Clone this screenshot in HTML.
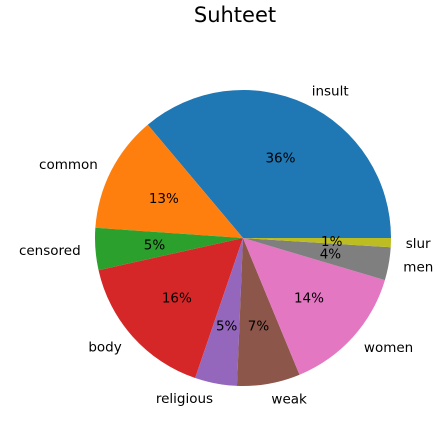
<!DOCTYPE html>
<html><head><meta charset="utf-8"><style>body{margin:0;background:#fff}svg{display:block;font-family:"DejaVu Sans","Liberation Sans",sans-serif}</style></head>
<body>
<svg id="chart" width="445" height="426">
<text x="235" y="22" font-size="21" text-anchor="middle">Suhteet</text>
<g id="slices"></g>
</svg>
<script>
const categories=["insult","common","censored","body","religious","weak","women","men","slur"];
const values=[36.2,12.8,4.6,16.3,4.6,6.9,14.2,3.6,1.0];
const colors=["#1f77b4","#ff7f0e","#2ca02c","#d62728","#9467bd","#8c564b","#e377c2","#7f7f7f","#bcbd22"];
const cx=243,cy=238,r=148;
const g=document.getElementById('slices');
const ns="http://www.w3.org/2000/svg";
const total=values.reduce((a,b)=>a+b,0);
let a0=0;
values.forEach((v,i)=>{
  const a1=a0+v/total*2*Math.PI;
  const x0=cx+r*Math.cos(a0),y0=cy-r*Math.sin(a0),x1=cx+r*Math.cos(a1),y1=cy-r*Math.sin(a1);
  const p=document.createElementNS(ns,'path');
  p.setAttribute('d',`M${cx},${cy}L${x0},${y0}A${r},${r} 0 ${a1-a0>Math.PI?1:0} 0 ${x1},${y1}Z`);
  p.setAttribute('fill',colors[i]);
  
  
  g.appendChild(p);
  const m=(a0+a1)/2,c=Math.cos(m),s=Math.sin(m);
  const t=document.createElementNS(ns,'text');
  t.setAttribute('x',cx+1.1*r*c);t.setAttribute('y',cy-1.1*r*s+5);
  t.setAttribute('font-size','13.5');
  t.setAttribute('text-anchor',c>0?'start':'end');
  t.textContent=categories[i];
  
  
  g.appendChild(t);
  const q=document.createElementNS(ns,'text');
  q.setAttribute('x',cx+0.6*r*c);q.setAttribute('y',cy-0.6*r*s+5);
  q.setAttribute('font-size','13.5');q.setAttribute('text-anchor','middle');
  q.textContent=Math.round(v/total*100)+'%';
  
  
  g.appendChild(q);
  a0=a1;
});
</script>
</body></html>
